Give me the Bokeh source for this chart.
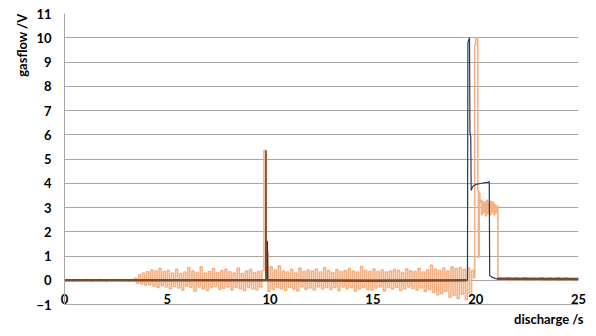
import numpy as np
from bokeh.plotting import figure
from bokeh.models import Range1d, FixedTicker, Title
from bokeh.embed import file_html
from bokeh.resources import INLINE

# ---- data ----
x_ticks = [0, 5, 10, 15, 20, 25]
y_ticks = list(range(-1, 12))

# orange (light) signal: noisy part sampled every 0.1 s from 0 to 19.9 s
orange_noise = [
    0.02, -0.02, 0.03, -0.01, 0.02, -0.03, 0.01, 0.03, -0.02, 0.02,
    -0.01, 0.03, -0.02, 0.02, -0.03, 0.01, 0.02, -0.02, 0.03, -0.01,
    0.02, -0.03, 0.02, 0.01, -0.02, 0.03, -0.01, 0.02, -0.02, 0.03,
    -0.02, 0.02, -0.03, 0.03, -0.02, 0.08, -0.12, 0.22, -0.15, 0.30,
    -0.20, 0.35, -0.18, 0.42, -0.25, 0.38, -0.30, 0.48, -0.22, 0.36,
    -0.28, 0.40, -0.35, 0.30, -0.26, 0.45, -0.32, 0.28, -0.40, 0.34,
    -0.25, 0.52, -0.30, 0.38, -0.45, 0.33, -0.28, 0.55, -0.36, 0.30,
    -0.42, 0.36, -0.30, 0.48, -0.26, 0.32, -0.38, 0.40, -0.33, 0.45,
    -0.28, 0.35, -0.40, 0.30, -0.30, 0.50, -0.35, 0.28, -0.42, 0.38,
    -0.30, 0.44, -0.36, 0.32, -0.40, 0.36, -0.28, 0.40, 5.35, 1.15,
    -0.45, 0.55, -0.38, 0.42, -0.30, 0.60, -0.35, 0.38, -0.42, 0.34,
    -0.30, 0.45, -0.36, 0.30, -0.44, 0.50, -0.28, 0.36, -0.38, 0.42,
    -0.32, 0.38, -0.40, 0.46, -0.28, 0.34, -0.36, 0.52, -0.30, 0.40,
    -0.38, 0.32, -0.30, 0.44, -0.42, 0.36, -0.28, 0.40, -0.35, 0.48,
    -0.30, 0.38, -0.44, 0.34, -0.36, 0.56, -0.30, 0.40, -0.38, 0.36,
    -0.40, 0.46, -0.32, 0.36, -0.28, 0.42, -0.44, 0.34, -0.30, 0.38,
    -0.36, 0.44, -0.30, 0.40, -0.42, 0.32, -0.35, 0.46, -0.28, 0.38,
    -0.34, 0.36, -0.40, 0.48, -0.32, 0.34, -0.46, 0.42, -0.38, 0.62,
    -0.50, 0.45, -0.60, 0.40, -0.55, 0.50, -0.45, 0.38, -0.70, 0.55,
    -0.62, 0.48, -0.75, 0.52, -0.58, 0.44, -0.80, 0.50, -0.60, 0.40,
]
orange_noise_t = [round(i * 0.1, 2) for i in range(len(orange_noise))]

orange_tail_t = [19.95, 20.0, 20.05, 20.1, 20.13, 20.17, 20.2, 20.25,
                 20.28, 20.33, 20.38, 20.43, 20.48, 20.53, 20.58, 20.63, 20.68,
                 20.73, 20.78, 20.83, 20.88, 20.93, 20.98, 21.03, 21.08,
                 21.12, 21.3, 21.5, 21.7, 21.9, 22.1, 22.3, 22.5, 22.7, 22.9,
                 23.1, 23.3, 23.5, 23.7, 23.9, 24.1, 24.3, 24.5, 24.7, 25.0]
orange_tail_v = [0.10, 9.70, 10.0, 10.0, 3.70, 0.95, 3.60, 3.20,
                 3.30, 2.70, 3.25, 2.80, 3.20, 2.65, 3.30, 2.75, 3.15,
                 2.70, 3.25, 2.80, 3.20, 2.70, 3.10, 2.80, 3.05,
                 0.05, 0.09, 0.02, 0.10, 0.03, 0.09, 0.02, 0.10, 0.03, 0.08,
                 0.02, 0.10, 0.03, 0.09, 0.02, 0.10, 0.03, 0.09, 0.02, 0.06]

orange_t = orange_noise_t + orange_tail_t
orange_v = orange_noise + orange_tail_v

# dark blue signal
blue_t = [0.0, 9.83, 9.85, 9.87, 9.89, 19.58, 19.6, 19.62, 19.7, 19.72,
          19.76, 19.78, 19.8, 19.85, 19.9, 20.0, 20.3, 20.62, 20.66, 20.68,
          20.8, 21.0, 25.0]
blue_v = [0.0, 0.0, 1.6, 1.6, 0.0, 0.0, 0.0, 9.8, 10.0, 6.1,
          5.9, 3.7, 3.75, 3.85, 3.9, 3.95, 4.0, 4.05, 4.07, 0.2,
          0.12, 0.06, 0.05]

# dark brown trace: thick baseline near zero and a thin spike at ~9.8 s
brown_base_t = [0.0, 3.5, 9.8, 15.0, 19.55, np.nan, 21.05, 25.0]
brown_base_v = [0.0, 0.0, 0.0, -0.02, 0.0, np.nan, 0.06, 0.05]
brown_spike_t = [9.79, 9.8, 9.81]
brown_spike_v = [0.0, 5.35, 0.0]

# ---- figure ----
p = figure(width=590, height=334, x_range=Range1d(0, 25), y_range=Range1d(-1, 11),
           output_backend="svg", toolbar_location=None,
           min_border_left=64, min_border_right=12, min_border_top=13, min_border_bottom=30)
p.outline_line_color = None
p.background_fill_color = "white"
p.border_fill_color = "white"

grid_col = "#A6A6A6"
p.xgrid.grid_line_color = None
p.ygrid.grid_line_color = grid_col
p.ygrid.ticker = FixedTicker(ticks=y_ticks)

p.xaxis.ticker = FixedTicker(ticks=x_ticks)
p.yaxis.ticker = FixedTicker(ticks=y_ticks)
for ax in (p.xaxis, p.yaxis):
    ax.major_tick_line_color = None
    ax.minor_tick_line_color = None
    ax.major_tick_out = 0
    ax.major_tick_in = 0
    ax.axis_line_color = grid_col
    ax.major_label_text_font = "Lato"
    ax.major_label_text_font_style = "bold"
    ax.major_label_text_font_size = "13px"
    ax.major_label_text_color = "#000000"
p.yaxis.major_label_standoff = 13
p.xaxis.major_label_standoff = -11

p.step(orange_t, orange_v, mode="before", line_color="#F4B183", line_width=1.6)
p.line(blue_t, blue_v, line_color="#1F3864", line_width=1.2)
p.line(brown_base_t, brown_base_v, line_color="#7A4A2A", line_width=2.5)
p.line(brown_spike_t, brown_spike_v, line_color="#7A4A2A", line_width=1.6)

p.add_layout(Title(text="discharge /s", align="right", text_font="Lato",
                   text_font_style="bold", text_font_size="13px", text_color="black",
                   standoff=5, offset=-5), "below")
p.add_layout(Title(text="gasflow /V", align="right", text_font="Lato",
                   text_font_style="bold", text_font_size="13px", text_color="black",
                   standoff=8), "left")

open("out.html", "w").write(file_html(p, INLINE))
